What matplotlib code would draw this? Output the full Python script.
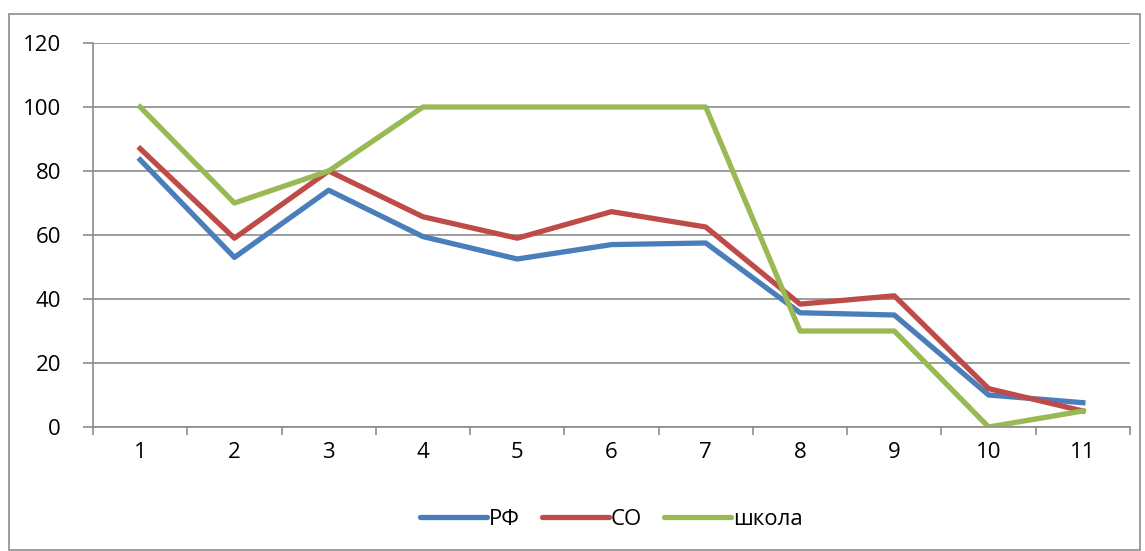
import matplotlib.pyplot as plt
from matplotlib.patches import Rectangle

# данные
categories = [1, 2, 3, 4, 5, 6, 7, 8, 9, 10, 11]
rf = [83.5, 53, 74, 59.5, 52.5, 57, 57.5, 35.7, 35, 10, 7.6]
so = [87, 59, 80, 65.7, 59, 67.3, 62.5, 38.4, 41, 12, 5]
school = [100, 70, 80, 100, 100, 100, 100, 30, 30, 0, 5]
yticks = [0, 20, 40, 60, 80, 100, 120]

plt.rcParams['font.family'] = ['Open Sans', 'DejaVu Sans']

fig = plt.figure(figsize=(11.45, 5.51), dpi=100)
ax = fig.add_axes([93 / 1145, 1 - 427 / 551, (1130 - 93) / 1145, (427 - 43) / 551])

# рамка диаграммы
fig.patches.append(Rectangle((9 / 1145, 1 / 551), 1131 / 1145, 536 / 551,
                             transform=fig.transFigure, fill=False,
                             edgecolor='#8c8c8c', linewidth=1.2))

ax.plot(categories, rf, color='#4a7ebb', linewidth=3.8, label='РФ')
ax.plot(categories, so, color='#be4b48', linewidth=3.8, label='СО')
ax.plot(categories, school, color='#98b954', linewidth=3.8, label='школа')

ax.set_xlim(0.5, 11.5)
ax.set_ylim(0, 120)
ax.set_yticks(yticks)
ax.set_xticks(categories)
ax.set_xticks([c - 0.5 for c in categories] + [11.5], minor=True)
ax.tick_params(axis='x', which='major', length=0, pad=11, labelsize=16)
ax.tick_params(axis='x', which='minor', length=6, color='#8c8c8c', width=1.2)
ax.tick_params(axis='y', length=7, color='#8c8c8c', width=1.2, pad=16, labelsize=16)
ax.grid(True, axis='y', color='#8c8c8c', linewidth=1.2)
ax.set_axisbelow(True)

for s in ['top', 'right']:
    ax.spines[s].set_visible(False)
for s in ['left', 'bottom']:
    ax.spines[s].set_color('#8c8c8c')
    ax.spines[s].set_linewidth(1.2)

leg = ax.legend(loc='center', bbox_to_anchor=(0.5, -0.24), ncol=3, frameon=False,
                fontsize=16, handlelength=3.0, handletextpad=0.1, columnspacing=1.0)
for h in leg.get_lines():
    h.set_solid_capstyle('round')

fig.savefig('out.png', dpi=100)
